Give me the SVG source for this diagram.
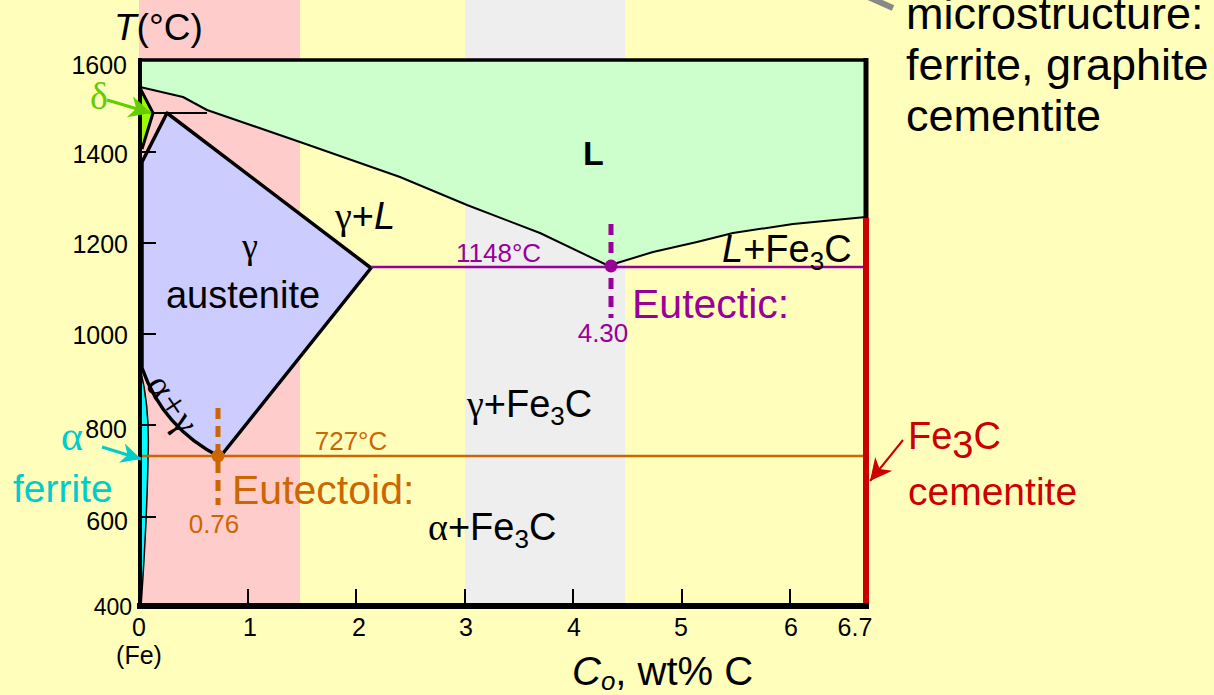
<svg xmlns="http://www.w3.org/2000/svg" width="1214" height="695" viewBox="0 0 1214 695">
<style>
.s{font-family:"Liberation Sans",Arial,sans-serif}
.g{font-family:"Liberation Serif","Times New Roman",serif}
.k{fill:#000}
.pu{fill:#990099}
.or{fill:#CC6600}
.bl{fill:none;stroke:#000;stroke-linejoin:round}
.ax{font-family:"Liberation Sans",Arial,sans-serif;font-size:25px;fill:#000}
</style>
<defs>
<marker id="ahG" viewBox="0 0 10 10" refX="10" refY="5" markerWidth="28" markerHeight="22" markerUnits="userSpaceOnUse" orient="auto"><path d="M0,0 L10,5 L0,10 L3,5 z" fill="#66CC00"/></marker>
<marker id="ahC" viewBox="0 0 10 10" refX="10" refY="5" markerWidth="26" markerHeight="20" markerUnits="userSpaceOnUse" orient="auto"><path d="M0,0 L10,5 L0,10 L3,5 z" fill="#00CCCC"/></marker>
<marker id="ahR" viewBox="0 0 10 10" refX="10" refY="5" markerWidth="26" markerHeight="22" markerUnits="userSpaceOnUse" orient="auto"><path d="M0,0 L10,5 L0,10 L3,5 z" fill="#CC0000"/></marker>
</defs>

<g id="background">
<rect x="0" y="0" width="1214" height="695" fill="#FFFFBB"/>
<rect x="139" y="0" width="161" height="607" fill="#FFCCCC"/>
<rect x="465" y="0" width="160" height="607" fill="#EEEEEE"/>
</g>

<g id="liquid">
<path d="M141,60 L866,60 L866,217 L793,224 L733,233 L697,242 L653,252 L617,263 L611,267 L540,233 L467,205 L400,177 L300,142 L207,110 L183,97 L141,87 Z" fill="#CCFFCC"/>
<text class="s k" x="583" y="165" font-size="34" font-weight="bold">L</text>
</g>

<g id="austenite">
<path d="M167,113 L371,268 L220,457 Q163,428 142,368 L142,162 Z" fill="#CCCCFF" stroke="#000" stroke-width="3.5" stroke-linejoin="round"/>
<text class="g k" x="250" y="258" font-size="36" text-anchor="middle">γ</text>
<text class="s k" x="243" y="308" font-size="38" text-anchor="middle">austenite</text>
</g>

<g id="delta">
<path d="M141,92 L153,113 L142,150 Z" fill="#99FF00"/>
<polyline class="bl" points="140,88 153,113 142,149" stroke-width="3"/>
<line x1="153" y1="113" x2="207" y2="113" stroke="#000" stroke-width="2"/>
<line x1="140" y1="87" x2="141" y2="60" stroke="#000" stroke-width="2"/>
</g>

<g id="ferrite">
<path d="M140,372 Q150,410 148,458 Q147,520 141,607 L139,607 L139,372 Z" fill="#00FFFF"/>
<path d="M141,372 Q150,410 148,458 Q147,520 141,607" class="bl" stroke-width="1.5"/>
</g>

<g id="liquidus">
<polyline class="bl" stroke-width="2" points="140,87 183,97 207,110 300,142 400,177 467,205 540,233 611,267 617,263 653,252 697,242 733,233 793,224 866,217"/>
</g>

<g id="eutectic">
<line x1="371" y1="267" x2="866" y2="267" stroke="#990099" stroke-width="2.5"/>
<line x1="611" y1="224" x2="611" y2="318" stroke="#990099" stroke-width="5" stroke-dasharray="11,7"/>
<circle cx="611" cy="266" r="6.5" fill="#990099"/>
<text class="s pu" x="456" y="262" font-size="26">1148°C</text>
<text class="s pu" x="603" y="342" font-size="26" text-anchor="middle">4.30</text>
<text class="s pu" x="632" y="318" font-size="41">Eutectic:</text>
</g>

<g id="eutectoid">
<line x1="141" y1="456" x2="866" y2="456" stroke="#CC6600" stroke-width="2.5"/>
<line x1="218" y1="408" x2="218" y2="505" stroke="#CC6600" stroke-width="5" stroke-dasharray="11,7"/>
<circle cx="218" cy="456" r="6.5" fill="#CC6600"/>
<text class="s or" x="351" y="450" font-size="26" text-anchor="middle">727°C</text>
<text class="s or" x="232" y="504" font-size="41">Eutectoid:</text>
<text class="s or" x="214" y="533" font-size="26" text-anchor="middle">0.76</text>
</g>

<g id="axes">
<line x1="138" y1="60" x2="868" y2="60" stroke="#000" stroke-width="3.5"/>
<line x1="866" y1="58" x2="866" y2="219" stroke="#000" stroke-width="5"/>
<line x1="866" y1="218" x2="866" y2="605" stroke="#CC0000" stroke-width="6"/>
<line x1="140" y1="58" x2="140" y2="609" stroke="#000" stroke-width="4"/>
<line x1="137" y1="606" x2="869" y2="606" stroke="#000" stroke-width="6"/>
<g stroke="#000" stroke-width="2">
<line x1="141" y1="152" x2="156" y2="152"/>
<line x1="141" y1="243" x2="156" y2="243"/>
<line x1="141" y1="334" x2="156" y2="334"/>
<line x1="141" y1="425" x2="156" y2="425"/>
<line x1="141" y1="517" x2="156" y2="517"/>
<line x1="248" y1="589" x2="248" y2="604"/>
<line x1="356" y1="589" x2="356" y2="604"/>
<line x1="465" y1="589" x2="465" y2="604"/>
<line x1="573" y1="589" x2="573" y2="604"/>
<line x1="682" y1="589" x2="682" y2="604"/>
<line x1="790" y1="589" x2="790" y2="604"/>
</g>
<text class="s k" x="114" y="40" font-size="37"><tspan font-style="italic">T</tspan>(°C)</text>
<g class="ax" text-anchor="end">
<text x="127" y="74">1600</text>
<text x="128" y="163">1400</text>
<text x="128" y="253">1200</text>
<text x="128" y="344">1000</text>
<text x="127" y="438">800</text>
<text x="128" y="530">600</text>
<text x="132" y="615" font-size="23">400</text>
</g>
<g class="ax" text-anchor="middle" font-size="24">
<text x="139" y="636">0</text>
<text x="250" y="636">1</text>
<text x="359" y="636">2</text>
<text x="466" y="636">3</text>
<text x="574" y="636">4</text>
<text x="681" y="636">5</text>
<text x="791" y="636">6</text>
<text x="855" y="636">6.7</text>
<text x="139" y="664">(Fe)</text>
</g>
<text class="s k" x="572" y="685" font-size="40"><tspan font-style="italic">C</tspan><tspan font-style="italic" font-size="26" dy="5">o</tspan><tspan dy="-5">, wt% C</tspan></text>
</g>

<g id="phase-labels">
<text class="s k" x="335" y="229" font-size="38"><tspan class="g">γ</tspan>+<tspan font-style="italic">L</tspan></text>
<text class="s k" x="722" y="262" font-size="38"><tspan font-style="italic">L</tspan>+Fe<tspan font-size="26" dy="8">3</tspan><tspan dy="-8">C</tspan></text>
<text class="s k" x="467" y="417" font-size="38"><tspan class="g">γ</tspan>+Fe<tspan font-size="26" dy="8">3</tspan><tspan dy="-8">C</tspan></text>
<text class="s k" x="428" y="540" font-size="38"><tspan class="g">α</tspan>+Fe<tspan font-size="26" dy="8">3</tspan><tspan dy="-8">C</tspan></text>
<text class="g k" x="0" y="0" font-size="38" letter-spacing="2" transform="translate(145,385) rotate(56)">α+γ</text>
</g>

<g id="label-delta">
<text class="g" x="90" y="109" font-size="38" fill="#66CC00">δ</text>
<line x1="107" y1="100" x2="151" y2="113" stroke="#66CC00" stroke-width="3" marker-end="url(#ahG)"/>
</g>

<g id="label-alpha">
<text class="g" x="61" y="450" font-size="42" fill="#00CCCC">α</text>
<text class="s" x="13" y="502" font-size="39" fill="#00CCCC">ferrite</text>
<line x1="102" y1="447" x2="141" y2="459" stroke="#00CCCC" stroke-width="3" marker-end="url(#ahC)"/>
</g>

<g id="label-cementite">
<text class="s" x="908" y="449" font-size="38" fill="#CC0000">Fe<tspan dy="9">3</tspan><tspan dy="-9">C</tspan></text>
<text class="s" x="908" y="505" font-size="39" fill="#CC0000">cementite</text>
<line x1="903" y1="440" x2="870" y2="481" stroke="#CC0000" stroke-width="2" marker-end="url(#ahR)"/>
</g>

<g id="note">
<line x1="866" y1="-4" x2="893" y2="8" stroke="#888888" stroke-width="6"/>
<text class="s k" x="906" y="29" font-size="45">microstructure:</text>
<text class="s k" x="906" y="80" font-size="45">ferrite, graphite</text>
<text class="s k" x="906" y="131" font-size="45">cementite</text>
</g>
</svg>
